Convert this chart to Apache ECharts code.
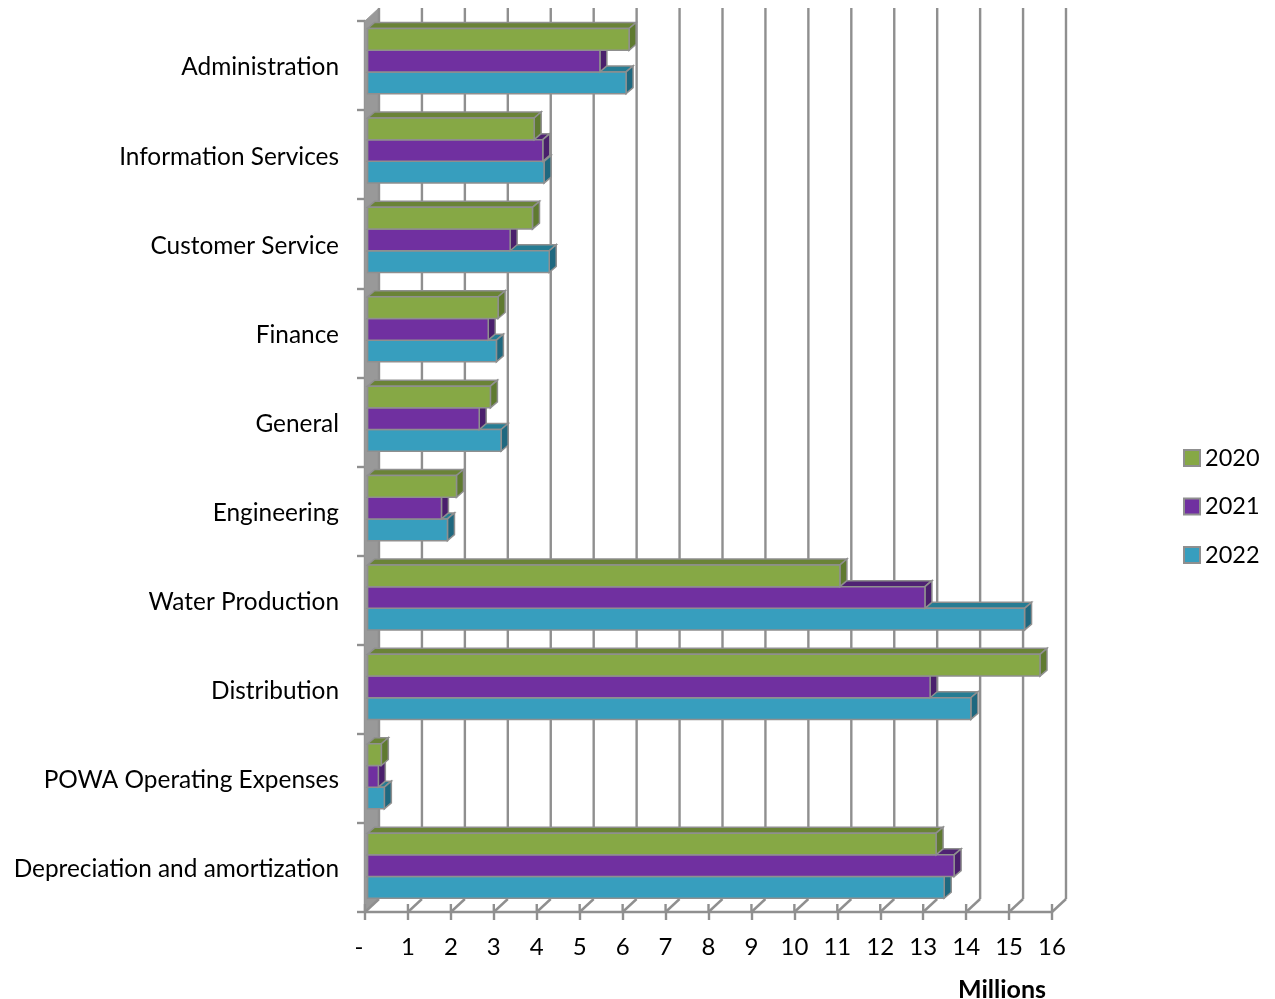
<!DOCTYPE html>
<html><head><meta charset="utf-8">
<style>html,body{margin:0;padding:0;background:#fff}#c{width:1275px;height:999px}</style>
<script src="https://cdn.jsdelivr.net/npm/echarts@6/dist/echarts.min.js"></script>
</head><body><div id="c"></div>
<script>
const categories = ['Administration','Information Services','Customer Service','Finance','General','Engineering','Water Production','Distribution','POWA Operating Expenses','Depreciation and amortization'];
const years = ['2020','2021','2022'];
const values2020 = [6.09,3.88,3.84,3.04,2.86,2.07,11.0,15.66,0.32,13.24];
const values2021 = [5.41,4.08,3.32,2.81,2.6,1.72,12.98,13.1,0.25,13.66];
const values2022 = [6.02,4.11,4.23,3.0,3.11,1.86,15.3,14.05,0.39,13.43];
const xTicks = [0,1,2,3,4,5,6,7,8,9,10,11,12,13,14,15,16];
const FONT = 'Lato';
const GRAY = '#8f8f8f';
const palette = {
  '2020':{front:'#86A845',top:'#6A8337',side:'#5F7A30'},
  '2021':{front:'#7030A0',top:'#4F2273',side:'#4A1F6C'},
  '2022':{front:'#379EBE',top:'#267C93',side:'#1F687F'}
};
const wallDx=14, wallDy=-13, barDx=2.6, depthX=7, depthY=6, drift=0.3;
function barSeries(name, vals, slot, z){
  const c=palette[name];
  return {
    type:'custom', name, z,
    coordinateSystem:'cartesian2d',
    itemStyle:{color:c.front,borderColor:GRAY,borderWidth:1},
    encode:{x:1,y:0},
    data:vals.map((v,i)=>[i,v]),
    renderItem(params,api){
      const i=api.value(0), v=api.value(1);
      const c0=api.coord([0,i]), c1=api.coord([v,i]);
      const band=api.size([0,1])[1];
      const h=band*0.2435;
      const y0=c0[1]-band*0.05+i*drift+(slot-1.5)*h;
      const y1=y0+h;
      const x0=c0[0]+barDx, x1=c1[0]+barDx;
      const edge={stroke:GRAY,lineWidth:1.5};
      return {type:'group',children:[
        {type:'polygon',shape:{points:[[x0,y0],[x0+depthX,y0-depthY],[x1+depthX,y0-depthY],[x1,y0]]},style:{fill:c.top,...edge}},
        {type:'polygon',shape:{points:[[x1,y0],[x1+depthX,y0-depthY],[x1+depthX,y1-depthY],[x1,y1]]},style:{fill:c.side,...edge}},
        {type:'rect',shape:{x:x0,y:y0,width:x1-x0,height:h},style:{fill:c.front,...edge}}
      ]};
    }
  };
}
const frame = {
  type:'custom', name:'frame', z:1, silent:true,
  coordinateSystem:'cartesian2d',
  encode:{x:0},
  data:xTicks.map(v=>[v]),
  renderItem(params,api){
    const v=api.value(0);
    const p=api.coord([v,0]);
    const s=params.coordSys;
    const x=p[0], top=s.y, bot=s.y+s.height;
    const st={stroke:GRAY,lineWidth:2.4,fill:'none'};
    const kids=[
      {type:'line',shape:{x1:x+wallDx,y1:top+wallDy,x2:x+wallDx,y2:bot+wallDy},style:st},
      {type:'line',shape:{x1:x,y1:bot,x2:x+wallDx,y2:bot+wallDy},style:st},
      {type:'line',shape:{x1:x,y1:bot-8,x2:x,y2:bot},style:st}
    ];
    if(v===0){
      kids.unshift({type:'polygon',shape:{points:[[x,top],[x+wallDx,top+wallDy],[x+wallDx,bot+wallDy],[x,bot]]},style:{fill:'#999999',stroke:'#999999'}});
    }
    return {type:'group',children:kids};
  }
};
const option = {
  animation:false,
  backgroundColor:'#fff',
  textStyle:{fontFamily:FONT},
  title:{text:'Millions',left:958,top:977,textStyle:{fontFamily:FONT,fontSize:25,fontWeight:'bold',color:'#000'},padding:0},
  grid:{left:365,top:21,width:687,height:891,containLabel:false},
  legend:{
    data:years, orient:'vertical', left:1183, top:446,
    icon:'rect', itemWidth:16, itemHeight:16, itemGap:24.5, padding:0,
    selectedMode:false,
    textStyle:{fontFamily:FONT,fontSize:23.5,color:'#000'}
  },
  xAxis:{
    type:'value',min:0,max:16,interval:1,
    splitLine:{show:false},
    axisLine:{show:true,lineStyle:{color:GRAY,width:2.4}},
    axisTick:{show:true,length:8,lineStyle:{color:GRAY,width:2.4}},
    axisLabel:{color:'#000',fontFamily:FONT,fontSize:24,margin:23,
      formatter:v=>v===0?'-  ':String(v)}
  },
  yAxis:{
    type:'category',inverse:true,data:categories,
    axisLine:{show:true,lineStyle:{color:GRAY,width:2.4}},
    axisTick:{show:true,length:8,alignWithLabel:false,lineStyle:{color:GRAY,width:2.4}},
    axisLabel:{color:'#000',fontFamily:FONT,fontSize:24.4,margin:26,verticalAlign:'top',lineHeight:4}
  },
  series:[frame,
    barSeries('2022',values2022,2,3),
    barSeries('2021',values2021,1,4),
    barSeries('2020',values2020,0,5)]
};
const chart=echarts.init(document.getElementById('c'),null,{renderer:'canvas'});
chart.setOption(option);
</script></body></html>
